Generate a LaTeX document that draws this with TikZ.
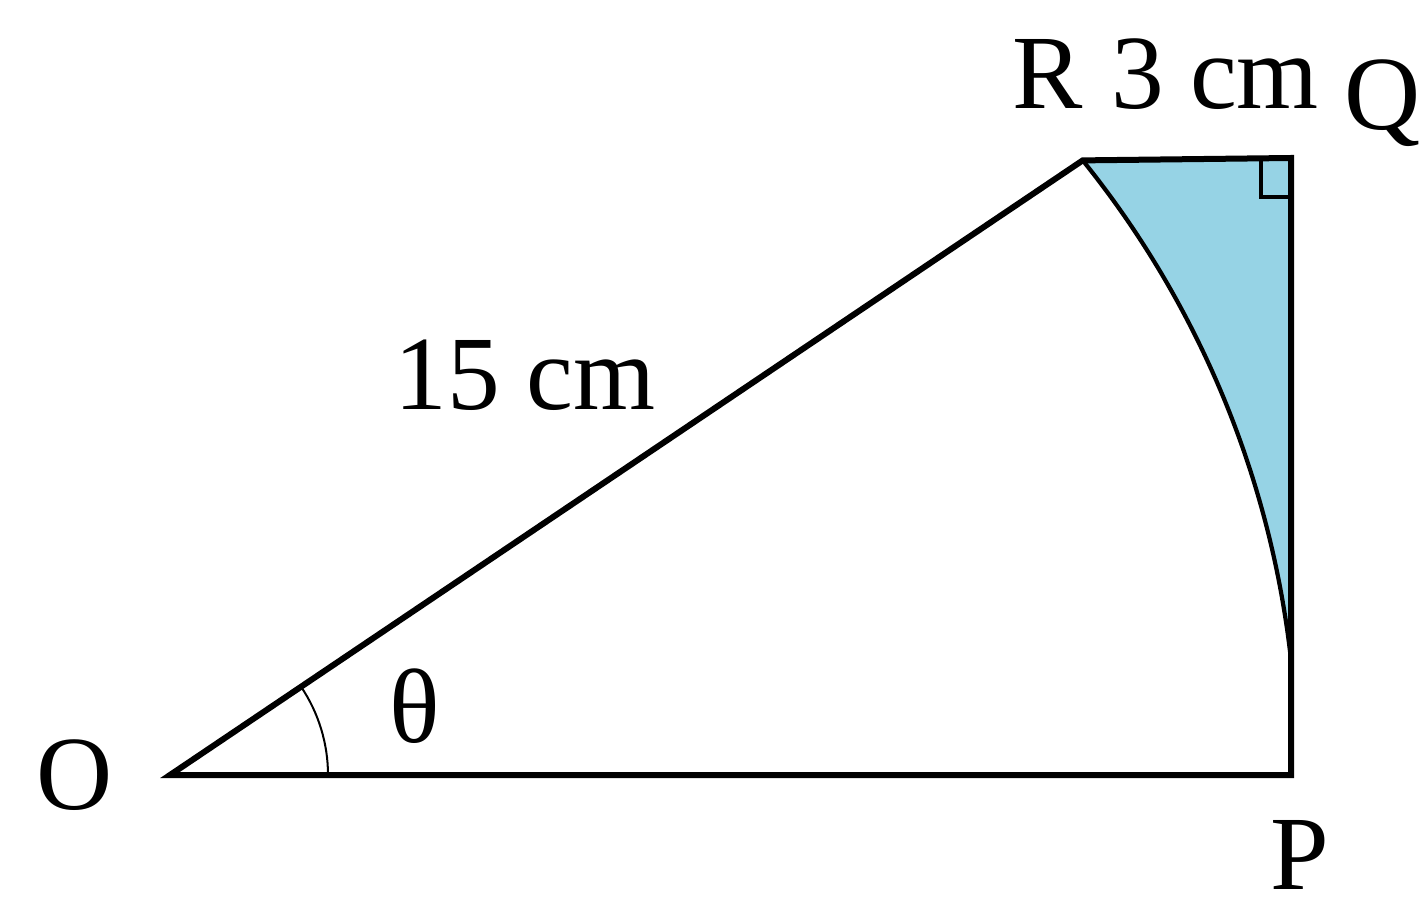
\documentclass[tikz,border=0pt]{standalone}
\usepackage{fontspec}
\setmainfont{Liberation Serif}
\usetikzlibrary{calc}
\definecolor{skyfill}{RGB}{150,211,229}
\tikzset{
  lbl/.style={inner sep=0pt, font=\fontsize{30}{36}\selectfont},
  edge/.style={line width=0.6mm, line join=miter},
  arcline/.style={line width=0.42mm},
  thinline/.style={line width=0.2mm}
}
\begin{document}
\begin{tikzpicture}[x=0.1mm,y=-0.1mm]
\useasboundingbox (0,0) rectangle (1428,909);
\coordinate (O) at (170,775);
\coordinate (P) at (1291,775);
\coordinate (Q) at (1291,158);
\coordinate (R) at (1082.7,160.4);
% shaded region
\fill[skyfill] (R) arc[start angle=-38.9, end angle=-6, radius=966] -- (Q) -- cycle;
% curve
\draw[arcline] (R) arc[start angle=-38.9, end angle=-6, radius=966];
% triangle edges
\draw[edge] (O) -- (P) -- (Q) -- (R) -- cycle;
% right angle
\draw[line width=0.45mm] (1291,197) -- (1261,197) -- (1261,158);
% angle mark
\draw[thinline] ($(O)+(158,0)$) arc[start angle=0, end angle=-34, radius=158];
% labels
\node[lbl] (lO) at (75,775) {O};
\node[lbl] (lP) at (1300,855) {P};
\node[lbl] (lQ) at (1383,103) {Q};
\node[lbl] (lR) at (1048,74) {R};
\node[lbl] (l3) at (1215,74) {3 cm};
\node[lbl] (l15) at (525,375) {15 cm};
\node[lbl] (lt) at (415,706) {θ};
\end{tikzpicture}
\end{document}
